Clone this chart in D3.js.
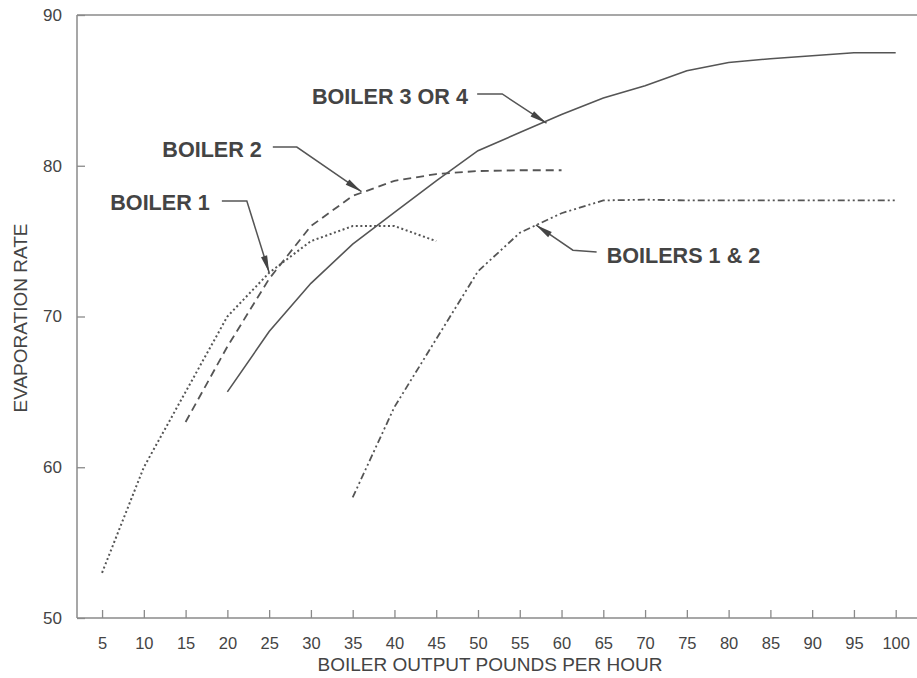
<!DOCTYPE html>
<html>
<head>
<meta charset="utf-8">
<script src="https://cdn.jsdelivr.net/npm/d3@7/dist/d3.min.js"></script>
<style>
  html, body { margin: 0; padding: 0; background: #fff; }
  svg { display: block; font-family: "Liberation Sans", Arial, sans-serif; }
</style>
</head>
<body>
<svg id="chart" width="917" height="678"></svg>
<script>
// ---- data ----
const xTicks = [5,10,15,20,25,30,35,40,45,50,55,60,65,70,75,80,85,90,95,100];
const yTicks = [50,60,70,80,90];

const boiler1X = [5,10,15,20,25,30,35,40,45];
const boiler1Y = [53,60,65,70,72.9,75,76,76,75];

const boiler2X = [15,20,25,30,35,40,45,50,55,60];
const boiler2Y = [63,68,72.5,76,78,79,79.45,79.65,79.7,79.7];

const boiler34X = [20,25,30,35,40,45,50,55,60,65,70,75,80,85,90,95,100];
const boiler34Y = [65,69,72.2,74.8,76.9,79,81,82.2,83.4,84.5,85.3,86.3,86.85,87.1,87.3,87.5,87.5];

const boilers12X = [35,40,45,50,55,60,65,70,75,80,85,90,95,100];
const boilers12Y = [58,64,68.5,73,75.55,76.85,77.7,77.75,77.7,77.7,77.7,77.7,77.7,77.7];

const labels = ["BOILER 1","BOILER 2","BOILER 3 OR 4","BOILERS 1 & 2"];

// ---- layout ----
const svg = d3.select("#chart");
const mLeft = 77, mRight = 917, mTop = 15, mBottom = 618;
const x = d3.scaleLinear().domain([2, 102.55]).range([mLeft, mRight]);
const y = d3.scaleLinear().domain([50, 90]).range([mBottom, mTop]);

const axisColor = "#8a8a8a";
const inkColor = "#555";
const textColor = "#444";

// frame lines
svg.append("line").attr("x1", mLeft).attr("x2", mRight).attr("y1", mTop).attr("y2", mTop)
  .attr("stroke", axisColor).attr("stroke-width", 1.5);
svg.append("line").attr("x1", mLeft).attr("x2", mLeft).attr("y1", mTop).attr("y2", mBottom)
  .attr("stroke", axisColor).attr("stroke-width", 1.5);

// x axis
const xAxis = svg.append("g").attr("transform", `translate(0,${mBottom})`)
  .call(d3.axisBottom(x).tickValues(xTicks).tickSizeInner(-8).tickSizeOuter(0).tickPadding(19.3));
xAxis.select(".domain").attr("stroke", axisColor).attr("stroke-width", 1.5)
  .attr("d", `M${mLeft},0H${mRight}`);
xAxis.selectAll(".tick line").attr("stroke", axisColor).attr("stroke-width", 1.3);
xAxis.selectAll(".tick text").attr("fill", textColor).attr("font-size", 16.5)
  .attr("font-family", "Liberation Sans, Arial, sans-serif");

// y axis
const yAxis = svg.append("g").attr("transform", `translate(${mLeft},0)`)
  .call(d3.axisLeft(y).tickValues(yTicks).tickSizeInner(-8).tickSizeOuter(0).tickPadding(15));
yAxis.select(".domain").remove();
yAxis.selectAll(".tick line").attr("stroke", axisColor).attr("stroke-width", 1.3);
yAxis.selectAll(".tick text").attr("fill", textColor).attr("font-size", 17)
  .attr("font-family", "Liberation Sans, Arial, sans-serif");

// axis titles
svg.append("text").attr("x", 490).attr("y", 671).attr("text-anchor", "middle")
  .attr("font-size", 19).attr("fill", textColor).text("BOILER OUTPUT POUNDS PER HOUR");
svg.append("text").attr("transform", "translate(27,318) rotate(-90)").attr("text-anchor", "middle")
  .attr("font-size", 19).attr("fill", textColor).text("EVAPORATION RATE");

// series
const line = d3.line().x(d => x(d[0])).y(d => y(d[1]));
function drawSeries(xs, ys, dash, width) {
  svg.append("path").datum(xs.map((v, i) => [v, ys[i]]))
    .attr("d", line).attr("fill", "none").attr("stroke", inkColor)
    .attr("stroke-width", width).attr("stroke-dasharray", dash);
}
drawSeries(boiler1X, boiler1Y, "2,2.6", 2);
drawSeries(boiler2X, boiler2Y, "8,5", 1.8);
drawSeries(boiler34X, boiler34Y, null, 1.6);
drawSeries(boilers12X, boilers12Y, "7,3,2,3,2,3", 1.8);

// annotations (data coordinates): text anchor, leader path, arrow tip
const ann = [
  { text: labels[0], tx: 17.9, ty: 77.07, anchor: "end",
    path: [[19.34,77.66],[22.33,77.66],[25.0,72.92]] },
  { text: labels[1], tx: 24.13, ty: 80.55, anchor: "end",
    path: [[25.44,81.24],[28.31,81.24],[36.06,78.28]] },
  { text: labels[2], tx: 48.8, ty: 84.1, anchor: "end",
    path: [[49.9,84.76],[52.9,84.76],[58.2,82.82]] },
  { text: labels[3], tx: 65.4, ty: 73.58, anchor: "start",
    path: [[64.2,74.28],[61.36,74.4],[56.93,76.07]] }
];
ann.forEach(a => {
  svg.append("text").attr("x", x(a.tx)).attr("y", y(a.ty)).attr("text-anchor", a.anchor)
    .attr("font-size", 21.6).attr("font-weight", "bold").attr("fill", textColor).text(a.text);
  const pts = a.path.map(p => [x(p[0]), y(p[1])]);
  svg.append("path").attr("d", d3.line()(pts)).attr("fill", "none")
    .attr("stroke", inkColor).attr("stroke-width", 1.5);
  // arrowhead
  const [px, py] = pts[pts.length - 2];
  const [tx, ty] = pts[pts.length - 1];
  const dx = tx - px, dy = ty - py, L = Math.hypot(dx, dy);
  const ux = dx / L, uy = dy / L, len = 17, hw = 3.2;
  const bx = tx - ux * len, by = ty - uy * len;
  svg.append("path")
    .attr("d", `M${tx},${ty}L${bx - uy * hw},${by + ux * hw}L${bx + uy * hw},${by - ux * hw}Z`)
    .attr("fill", "#444");
});
</script>
</body>
</html>
